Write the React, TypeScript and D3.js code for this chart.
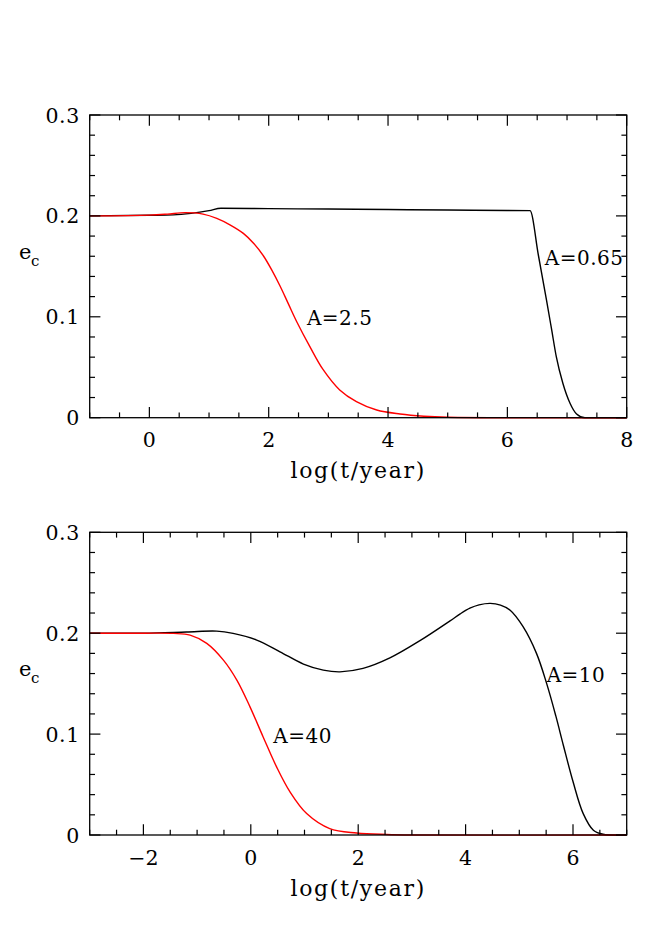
import React from "react";
import * as d3 from "d3";

// ---------- data ----------
const topBlackX = [-1, 0, 0.4, 0.7, 1.0, 1.2, 2, 3, 4, 5, 6, 6.38, 6.52, 6.656, 6.74, 6.82, 6.93, 7.05, 7.16, 7.3, 8];
const topBlackY = [0.2, 0.2006, 0.201, 0.2025, 0.2052, 0.2076, 0.2072, 0.2068, 0.2063, 0.2058, 0.2054, 0.2052, 0.161, 0.1166, 0.088, 0.0605, 0.0341, 0.0143, 0.0037, 0, 0];

const topRedX = [-1, 0, 0.3, 0.6, 0.9, 1.13, 1.35, 1.575, 1.75, 1.91, 2.05, 2.19, 2.33, 2.47, 2.69, 2.91, 3.19, 3.47, 3.81, 4.2, 4.6, 5, 8];
const topRedY = [0.2, 0.2008, 0.2018, 0.2032, 0.2018, 0.1976, 0.1912, 0.1827, 0.1727, 0.1605, 0.1465, 0.1305, 0.1128, 0.0951, 0.0704, 0.0478, 0.0275, 0.0159, 0.0076, 0.0037, 0.0015, 0.0005, 0];

const botBlackX = [-3, -2, -1.2, -0.635, -0.33, 0.11, 0.544, 0.98, 1.35, 1.66, 2.09, 2.59, 3.15, 3.71, 3.9, 4.08, 4.25, 4.46, 4.65, 4.83, 5.07, 5.32, 5.51, 5.68, 5.82, 6.0, 6.19, 6.38, 6.56, 7];
const botBlackY = [0.2, 0.2, 0.2012, 0.2021, 0.1998, 0.1932, 0.1816, 0.1694, 0.1634, 0.1617, 0.1651, 0.1755, 0.1926, 0.2122, 0.2192, 0.2248, 0.2281, 0.2296, 0.2278, 0.2227, 0.2064, 0.18, 0.15, 0.118, 0.089, 0.053, 0.0212, 0.0047, 0.0007, 0];

const botRedX = [-3, -2, -1.44, -1.13, -0.82, -0.51, -0.26, -0.015, 0.23, 0.48, 0.73, 1.04, 1.47, 1.97, 2.53, 3, 7];
const botRedY = [0.2, 0.2, 0.1998, 0.1981, 0.1899, 0.1733, 0.1535, 0.127, 0.0972, 0.0675, 0.0427, 0.0212, 0.0063, 0.002, 0.0005, 0, 0];

const yTickValues = [0, 0.1, 0.2, 0.3];
const yTickLabels = ["0", "0.1", "0.2", "0.3"];
const topXTickValues = [0, 2, 4, 6, 8];
const topXTickLabels = ["0", "2", "4", "6", "8"];
const botXTickValues = [-2, 0, 2, 4, 6];
const botXTickLabels = ["\u22122", "0", "2", "4", "6"];

const topLabels = ["A=0.65", "A=2.5"];
const topLabelX = [6.628, 2.64];
const topLabelY = [0.1513, 0.0919];
const botLabels = ["A=10", "A=40"];
const botLabelX = [5.51, 0.419];
const botLabelY = [0.1518, 0.0913];

const xTitle = "log(t/year)";

// ---------- layout ----------
const W = 664;
const H = 940;
const FONT = "'DejaVu Serif', serif";

type PanelProps = {
  top: number;
  xDomain: [number, number];
  xTicks: number[];
  xTickLabels: string[];
  black: [number[], number[]];
  red: [number[], number[]];
  blackSharp: boolean;
  labels: string[];
  labelX: number[];
  labelY: number[];
};

function Panel(p: PanelProps) {
  const left = 89.7;
  const right = 626.7;
  const bottom = p.top + 302.7;
  const x = d3.scaleLinear().domain(p.xDomain).range([left, right]);
  const y = d3.scaleLinear().domain([0, 0.3]).range([bottom, p.top]);

  const mk = (curve: d3.CurveFactory) =>
    d3
      .line<[number, number]>()
      .x((d) => x(d[0]))
      .y((d) => y(d[1]))
      .curve(curve);
  const smooth = mk(d3.curveCatmullRom.alpha(0.5));
  const mono = mk(d3.curveMonotoneX);

  const toPts = (xs: number[], ys: number[]) => xs.map((v, i) => [v, ys[i]] as [number, number]);

  const minorX: number[] = [];
  for (let v = Math.ceil(p.xDomain[0] * 2) / 2; v <= p.xDomain[1] + 1e-9; v += 0.5) {
    if (Math.abs(v - Math.round(v / 2) * 2) > 1e-6) minorX.push(v);
  }
  const minorY: number[] = [];
  for (let k = 1; k < 15; k++) {
    if (k % 5 !== 0) minorY.push(k * 0.02);
  }
  const MAJ = 10.7;
  const MIN = 5.3;
  const tickStroke = { stroke: "#000", strokeWidth: 1.2 };

  const blackLine = p.blackSharp ? mono : smooth;

  return (
    <g>
      {/* curves */}
      <path d={blackLine(toPts(p.black[0], p.black[1])) || ""} fill="none" stroke="#000" strokeWidth={1.4} />
      <path d={smooth(toPts(p.red[0], p.red[1])) || ""} fill="none" stroke="#ff0000" strokeWidth={1.4} />

      {/* frame */}
      <rect x={left} y={p.top} width={right - left} height={bottom - p.top} fill="none" stroke="#000" strokeWidth={1.3} />

      {/* x ticks */}
      {p.xTicks.map((v) => (
        <g key={"xm" + v}>
          <line x1={x(v)} x2={x(v)} y1={bottom} y2={bottom - MAJ} {...tickStroke} />
          <line x1={x(v)} x2={x(v)} y1={p.top} y2={p.top + MAJ} {...tickStroke} />
        </g>
      ))}
      {minorX.map((v) => (
        <g key={"xn" + v}>
          <line x1={x(v)} x2={x(v)} y1={bottom} y2={bottom - MIN} {...tickStroke} />
          <line x1={x(v)} x2={x(v)} y1={p.top} y2={p.top + MIN} {...tickStroke} />
        </g>
      ))}
      {/* y ticks */}
      {yTickValues.map((v) => (
        <g key={"ym" + v}>
          <line x1={left} x2={left + MAJ} y1={y(v)} y2={y(v)} {...tickStroke} />
          <line x1={right} x2={right - MAJ} y1={y(v)} y2={y(v)} {...tickStroke} />
        </g>
      ))}
      {minorY.map((v) => (
        <g key={"yn" + v}>
          <line x1={left} x2={left + MIN} y1={y(v)} y2={y(v)} {...tickStroke} />
          <line x1={right} x2={right - MIN} y1={y(v)} y2={y(v)} {...tickStroke} />
        </g>
      ))}

      {/* tick labels */}
      {yTickValues.map((v, i) => (
        <text key={"yl" + v} x={left - 10} y={y(v) + 7.5} textAnchor="end" fontFamily={FONT} fontSize={20.5} letterSpacing={0.5}>
          {yTickLabels[i]}
        </text>
      ))}
      {p.xTicks.map((v, i) => (
        <text key={"xl" + v} x={x(v)} y={bottom + 29.5} textAnchor="middle" fontFamily={FONT} fontSize={20.5}>
          {p.xTickLabels[i]}
        </text>
      ))}

      {/* axis titles */}
      <text x={(left + right) / 2} y={bottom + 60.6} textAnchor="middle" fontFamily={FONT} fontSize={22} letterSpacing={1.7}>
        {xTitle}
      </text>
      <text x={19} y={p.top + 144} fontFamily={FONT} fontSize={21}>
        e
      </text>
      <text x={31} y={p.top + 151} fontFamily={FONT} fontSize={15}>
        c
      </text>

      {/* annotations */}
      {p.labels.map((s, i) => (
        <text key={s} x={x(p.labelX[i])} y={y(p.labelY[i])} fontFamily={FONT} fontSize={20} letterSpacing={0.5}>
          {s}
        </text>
      ))}
    </g>
  );
}

export default function App() {
  return (
    <svg width={W} height={H} style={{ position: "absolute", left: 0, top: 0, background: "#fff" }}>
      <rect x={0} y={0} width={W} height={H} fill="#fff" />
      <Panel
        top={115}
        xDomain={[-1, 8]}
        xTicks={topXTickValues}
        xTickLabels={topXTickLabels}
        black={[topBlackX, topBlackY]}
        red={[topRedX, topRedY]}
        blackSharp={true}
        labels={topLabels}
        labelX={topLabelX}
        labelY={topLabelY}
      />
      <Panel
        top={532.3}
        xDomain={[-3, 7]}
        xTicks={botXTickValues}
        xTickLabels={botXTickLabels}
        black={[botBlackX, botBlackY]}
        red={[botRedX, botRedY]}
        blackSharp={false}
        labels={botLabels}
        labelX={botLabelX}
        labelY={botLabelY}
      />
    </svg>
  );
}
